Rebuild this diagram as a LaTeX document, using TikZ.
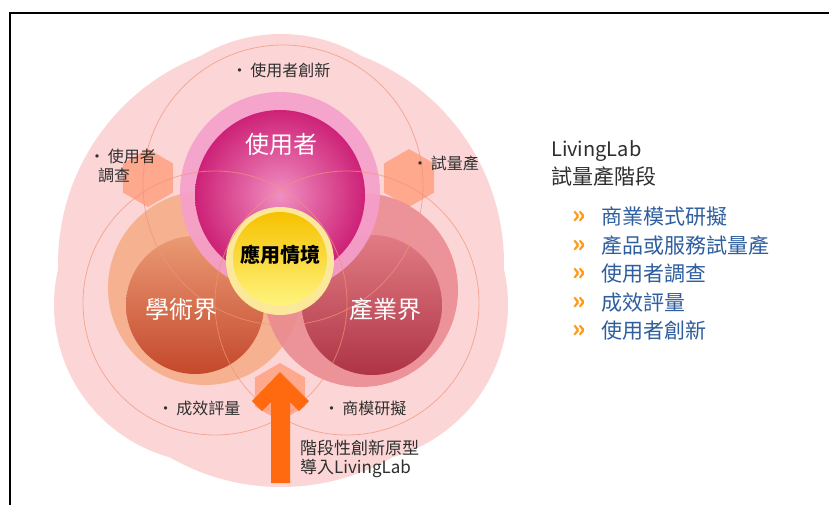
\documentclass[tikz,border=0pt]{standalone}
\usepackage{fontspec}
\setmainfont{Noto Sans CJK TC}
\usetikzlibrary{shapes.geometric}
\definecolor{pinkbg}{HTML}{FCD6D6}
\definecolor{thinline}{HTML}{F2937A}
\definecolor{userring}{HTML}{F5A0CC}
\definecolor{userdark}{HTML}{C8106C}
\definecolor{usermid}{HTML}{F08CC0}
\definecolor{acaring}{HTML}{F6B290}
\definecolor{acatop}{HTML}{EA9A74}
\definecolor{acabot}{HTML}{C4482C}
\definecolor{indring}{HTML}{EA8A92}
\definecolor{indtop}{HTML}{E07A82}
\definecolor{indbot}{HTML}{A82A3C}
\definecolor{yellowrim}{HTML}{FCE89A}
\definecolor{yellowtop}{HTML}{F6C200}
\definecolor{yellowbot}{HTML}{FFF480}
\definecolor{hexfill}{HTML}{FFA082}
\definecolor{arrowc}{HTML}{FF6A10}
\definecolor{labelgray}{HTML}{2E2E2E}
\definecolor{itemblue}{HTML}{2E5E9E}
\definecolor{chevc}{HTML}{FF9A1A}
\begin{document}
\begin{tikzpicture}[x=1pt,y=-1pt,
  lbl/.style={font=\fontsize{16}{19}\selectfont, text=labelgray, inner sep=0pt},
  bigtxt/.style={font=\fontsize{24}{26}\selectfont, text=white, inner sep=0pt},
  itemtxt/.style={font=\fontsize{21}{24}\selectfont, text=itemblue, anchor=west, inner sep=0pt},
  chevtxt/.style={font=\bfseries\fontsize{24}{26}\selectfont, text=chevc, anchor=west, inner sep=0pt},
  thin/.style={draw=thinline, line width=0.8pt, draw opacity=0.7},
  hexa/.style={regular polygon, regular polygon sides=6, shape border rotate=30, minimum size=58pt, inner sep=0pt, fill=hexfill, fill opacity=0.85}
]
\useasboundingbox (0,0) rectangle (829,504);
\fill[white] (0,0) rectangle (829,504);
% frame
\draw[line width=2pt, black] (10,506) -- (10,13) -- (831,13);

% outer pink region (union of circles)
\fill[pinkbg] (281,264) circle[radius=223pt] (281,192) circle[radius=158pt]
  (212,305) circle[radius=158pt] (350,305) circle[radius=158pt];

% hexagons
\node[hexa] (hexL) at (148,178) {};
\node[hexa] (hexR) at (409,178) {};
\node[hexa] (hexB) at (280,392) {};

% academia
\fill[acaring] (205,288) circle[radius=97pt];
\shade[top color=acatop, bottom color=acabot] (195,305) circle[radius=69pt];
% industry
\fill[indring, fill opacity=0.88] (361,290) circle[radius=97pt];
\shade[top color=indtop, bottom color=indbot, opacity=0.9] (372,305) circle[radius=70pt];
% user
\fill[userring, fill opacity=0.9] (280,192) circle[radius=100pt];
\shade[inner color=usermid, outer color=userdark, opacity=0.88] (280,195) circle[radius=85pt];
% scenario
\fill[yellowrim] (280,261) circle[radius=54pt];
\shade[top color=yellowtop, bottom color=yellowbot] (280,259) circle[radius=47pt];

% thin orbit lines
\draw[thin] (283,185) circle[radius=140pt];
\draw[thin] (215,303) circle[radius=132pt];
\draw[thin] (347,303) circle[radius=132pt];

% arrow
\fill[arrowc] (280,372) -- (309,401) -- (299,411) -- (290,402) -- (290,483) -- (271,483) -- (271,402) -- (262,411) -- (252,401) -- cycle;

% circle texts
\node[bigtxt] (user) at (281,144) {使用者};
\node[bigtxt] (aca) at (181,309) {學術界};
\node[bigtxt] (ind) at (385,309) {產業界};
\node[inner sep=0pt, font=\bfseries\fontsize{20}{22}\selectfont, text=black] (scen) at (280,255) {應用情境};

% labels
\node[lbl] (l1) at (281,70) {•\,使用者創新};
\node[lbl, anchor=north west, align=left] (l2) at (89,149) {•\,使用者\\\hspace{9pt}調查};
\node[lbl, anchor=west] (l3) at (412,163) {•\,試量產};
\node[lbl] (l4) at (199,408) {•\,成效評量};
\node[lbl] (l5) at (365,408) {•\,商模研擬};
\node[lbl, anchor=north west, align=left, font=\fontsize{17}{19}\selectfont] (l6) at (300,440) {階段性創新原型\\導入LivingLab};

% right side
\node[inner sep=0pt, anchor=west, font=\fontsize{20}{22}\selectfont, text=labelgray] (t1) at (551,151) {LivingLab};
\node[inner sep=0pt, anchor=west, font=\fontsize{21}{23}\selectfont, text=labelgray] (t2) at (551,177) {試量產階段};
\foreach \y/\t [count=\i] in {217/商業模式研擬, 246/產品或服務試量產, 274/使用者調查, 303/成效評量, 331/使用者創新} {
  \node[chevtxt] (c\i) at (572,\y) {»};
  \node[itemtxt] (it\i) at (601,\y) {\t};
}
\end{tikzpicture}
\end{document}
